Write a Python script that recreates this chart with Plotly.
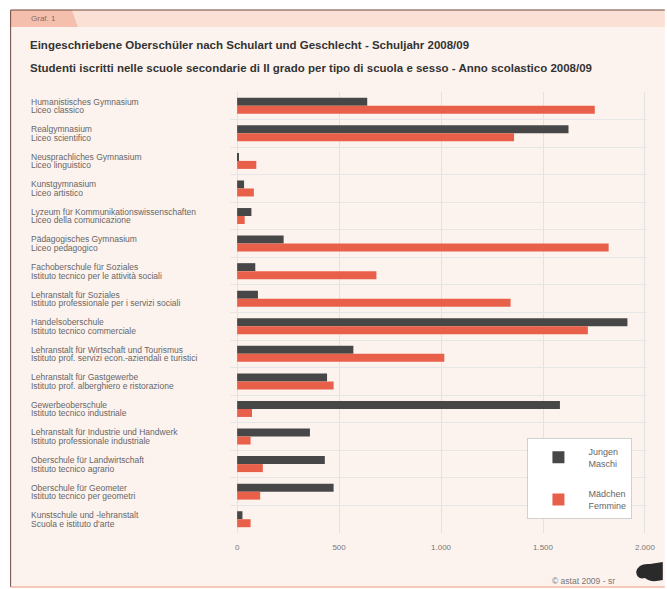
import plotly.graph_objects as go

schools_de = [
    "Humanistisches Gymnasium",
    "Realgymnasium",
    "Neusprachliches Gymnasium",
    "Kunstgymnasium",
    "Lyzeum für Kommunikationswissenschaften",
    "Pädagogisches Gymnasium",
    "Fachoberschule für Soziales",
    "Lehranstalt für Soziales",
    "Handelsoberschule",
    "Lehranstalt für Wirtschaft und Tourismus",
    "Lehranstalt für Gastgewerbe",
    "Gewerbeoberschule",
    "Lehranstalt für Industrie und Handwerk",
    "Oberschule für Landwirtschaft",
    "Oberschule für Geometer",
    "Kunstschule und -lehranstalt",
]
schools_it = [
    "Liceo classico",
    "Liceo scientifico",
    "Liceo linguistico",
    "Liceo artistico",
    "Liceo della comunicazione",
    "Liceo pedagogico",
    "Istituto tecnico per le attività sociali",
    "Istituto professionale per i servizi sociali",
    "Istituto tecnico commerciale",
    "Istituto prof. servizi econ.-aziendali e turistici",
    "Istituto prof. alberghiero e ristorazione",
    "Istituto tecnico industriale",
    "Istituto professionale industriale",
    "Istituto tecnico agrario",
    "Istituto tecnico per geometri",
    "Scuola e istituto d'arte",
]
boys = [638, 1625, 5, 34, 70, 228, 89, 102, 1914, 570, 441, 1583, 357, 430, 473, 26]
girls = [1754, 1358, 94, 82, 37, 1822, 683, 1341, 1720, 1016, 473, 73, 66, 126, 113, 66]
tick_vals = [0, 500, 1000, 1500, 2000]
tick_text = ["0", "500", "1.000", "1.500", "2.000"]

W, H = 667, 589
L, R, T, B = 230, 15, 92, 56
PW, PH = W - L - R, H - T - B
FONT = "Liberation Sans, Arial, sans-serif"

def px(x):
    return (x - L) / PW

def py(y):
    return (H - B - y) / PH

idx = list(range(len(schools_de)))

fig = go.Figure()
fig.add_trace(go.Bar(y=idx, x=boys, orientation="h", name="Jungen<br>Maschi",
                     marker=dict(color="#474747", line=dict(width=0)), legendgroup="a"))
fig.add_trace(go.Bar(y=idx, x=girls, orientation="h", name="Mädchen<br>Femmine",
                     marker=dict(color="#e8604a", line=dict(width=0)), legendgroup="b"))

ann = []
for i in idx:
    ann.append(dict(xref="paper", yref="y", x=px(27), y=i - 0.15, text=schools_de[i],
                    showarrow=False, xanchor="left", yanchor="middle",
                    font=dict(size=8.5, color="#666666", family=FONT)))
    ann.append(dict(xref="paper", yref="y", x=px(27), y=i + 0.16, text=schools_it[i],
                    showarrow=False, xanchor="left", yanchor="middle",
                    font=dict(size=8.5, color="#666666", family=FONT)))

ann += [
    dict(xref="paper", yref="paper", x=px(26), y=py(45),
         text="<b>Eingeschriebene Oberschüler nach Schulart und Geschlecht - Schuljahr 2008/09</b>",
         showarrow=False, xanchor="left", yanchor="middle",
         font=dict(size=11.5, color="#333333", family=FONT)),
    dict(xref="paper", yref="paper", x=px(26), y=py(68),
         text="<b>Studenti iscritti nelle scuole secondarie di II grado per tipo di scuola e sesso - Anno scolastico 2008/09</b>",
         showarrow=False, xanchor="left", yanchor="middle",
         font=dict(size=11.5, color="#333333", family=FONT)),
    dict(xref="paper", yref="paper", x=px(27), y=py(19), text="Graf. 1",
         showarrow=False, xanchor="left", yanchor="middle",
         font=dict(size=8, color="#8a6a60", family=FONT)),
    dict(xref="paper", yref="paper", x=px(622), y=py(581), text="© astat 2009 - sr",
         showarrow=False, xanchor="right", yanchor="middle",
         font=dict(size=8.5, color="#777777", family=FONT)),
]

shapes = [
    dict(type="rect", xref="paper", yref="paper", x0=px(8), x1=px(670), y0=py(10), y1=py(587),
         fillcolor="#fdf3ee", line=dict(width=0), layer="below"),
    dict(type="rect", xref="paper", yref="paper", x0=px(8), x1=px(670), y0=py(10), y1=py(27),
         fillcolor="#fbe0d5", line=dict(width=0), layer="below"),
    dict(type="path", xref="paper", yref="paper",
         path=f"M {px(8)},{py(10)} L {px(70)},{py(10)} L {px(76)},{py(27)} L {px(8)},{py(27)} Z",
         fillcolor="#f5bfae", line=dict(width=0), layer="below"),
    dict(type="line", xref="paper", yref="paper", x0=px(8), x1=px(670), y0=py(10), y1=py(10),
         line=dict(color="#6e463c", width=1), layer="below"),
    dict(type="line", xref="paper", yref="paper", x0=px(8), x1=px(8), y0=py(10), y1=py(587),
         line=dict(color="#6e463c", width=1), layer="below"),
    dict(type="line", xref="paper", yref="paper", x0=px(8), x1=px(670), y0=py(587), y1=py(587),
         line=dict(color="#f0b8a2", width=1.5), layer="below"),
    dict(type="path", xref="paper", yref="paper",
         path=(f"M {px(641)},{py(572)} Q {px(643)},{py(563)} {px(655)},{py(564)} "
               f"L {px(668)},{py(562)} L {px(668)},{py(580)} Q {px(655)},{py(583)} {px(650)},{py(578)} "
               f"Q {px(642)},{py(580)} {px(641)},{py(572)} Z"),
         fillcolor="#2a2a2a", line=dict(width=0), layer="above"),
]

fig.update_layout(
    width=W, height=H,
    margin=dict(l=L, r=R, t=T, b=B, pad=0),
    paper_bgcolor="#ffffff",
    plot_bgcolor="#ffffff",
    barmode="group",
    bargap=0.42,
    bargroupgap=0,
    font=dict(family=FONT, size=8, color="#666666"),
    annotations=ann,
    shapes=shapes,
    showlegend=True,
    legend=dict(x=px(531), y=py(438), xanchor="left", yanchor="top",
                bgcolor="#ffffff", bordercolor="#d0d0d0", borderwidth=1,
                tracegroupgap=16, itemwidth=50,
                font=dict(size=9, color="#666666", family=FONT),
                itemsizing="constant"),
    xaxis=dict(range=[-35, 2010], tickvals=tick_vals, ticktext=tick_text,
               showgrid=True, gridcolor="#e2e2e2", gridwidth=1, zeroline=False,
               showline=False, ticks="outside", ticklen=6, tickcolor="rgba(0,0,0,0)",
               tickfont=dict(size=8, color="#777777", family=FONT), fixedrange=True),
    yaxis=dict(range=[15.5, -0.5], tickvals=[i + 0.5 for i in idx[:-1]],
               showticklabels=False, showgrid=True, gridcolor="#e6e6e6", gridwidth=1,
               zeroline=False, showline=False, ticks="", fixedrange=True),
)

fig.write_html("out.html", config={"displayModeBar": False},
               post_script="document.body.style.margin='0';document.body.style.padding='0';")
